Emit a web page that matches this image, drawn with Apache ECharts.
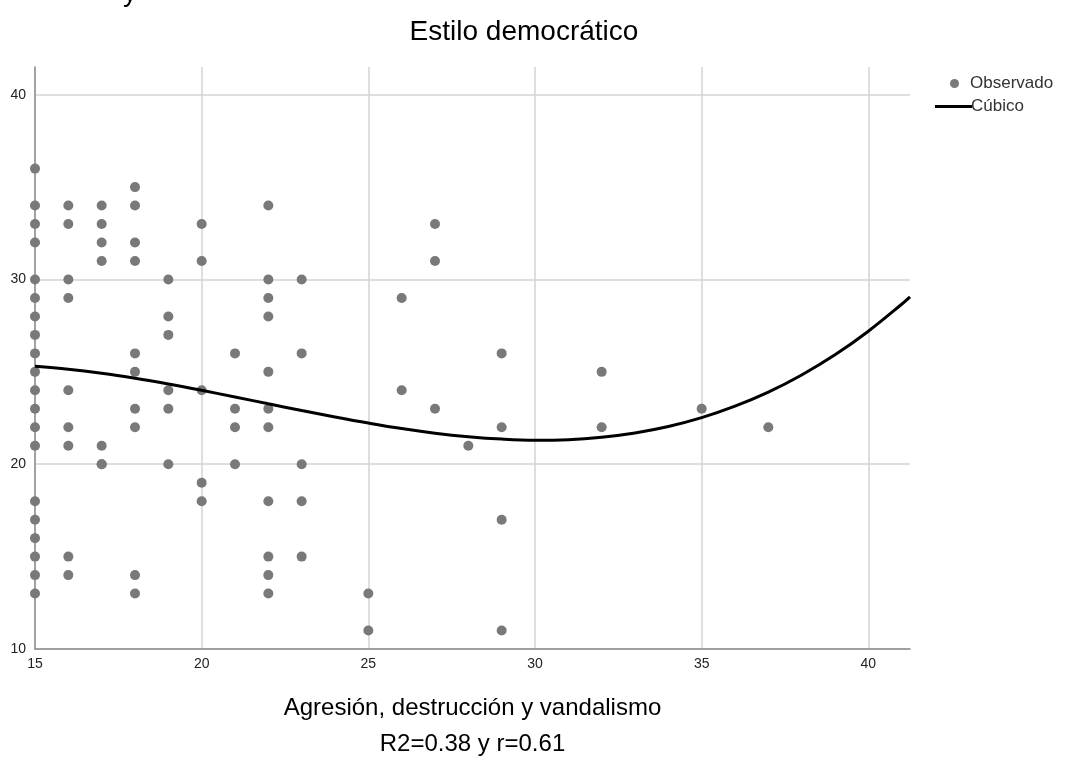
<!DOCTYPE html>
<html>
<head>
<meta charset="utf-8">
<script src="https://cdn.jsdelivr.net/npm/echarts@6/dist/echarts.min.js"></script>
<style>
  html, body { margin: 0; padding: 0; background: #fff; }
  #chart { width: 1065px; height: 770px; }
</style>
</head>
<body>
<div id="chart"></div>
<script>
// puntos observados, x = agresion, y = estilo democratico
const obsX15 = [36, 34, 33, 32, 30, 29, 28, 27, 26, 25, 24, 23, 22, 21, 18, 17, 16, 15, 14, 13]
const obsX16 = [34, 33, 30, 29, 24, 22, 21, 15, 14]
const obsX17 = [34, 33, 32, 31, 21, 20, 20]
const obsX18 = [35, 34, 32, 31, 26, 25, 23, 22, 14, 13]
const obsX19 = [30, 28, 27, 24, 23, 20]
const obsX20 = [33, 31, 24, 19, 18]
const obsX21 = [26, 23, 22, 20]
const obsX22 = [34, 30, 29, 28, 25, 23, 22, 18, 15, 14, 13]
const obsX23 = [30, 26, 20, 18, 15]
const obsX25 = [13, 11]
const obsX26 = [29, 24]
const obsX27 = [33, 31, 23]
const obsX28 = [21]
const obsX29 = [26, 22, 17, 11]
const obsX32 = [25, 22]
const obsX35 = [23]
const obsX37 = [22]

// curva cubica, valores
const curveX = [15, 16, 17, 18, 19, 20, 21, 22, 23, 24, 25, 26, 27, 28, 29, 30, 31, 32, 33,
  34, 35, 36, 37, 38, 39, 40, 41, 41.25]
const curveY = [25.3, 25.14, 24.92, 24.65, 24.34, 24.0, 23.64, 23.27, 22.91, 22.56, 22.23,
  21.93, 21.68, 21.49, 21.36, 21.3, 21.33, 21.46, 21.69, 22.04, 22.52, 23.14, 23.9, 24.83,
  25.92, 27.2, 28.66, 29.06]

const groups = [
  [15, obsX15], [16, obsX16], [17, obsX17], [18, obsX18], [19, obsX19],
  [20, obsX20], [21, obsX21], [22, obsX22], [23, obsX23], [25, obsX25],
  [26, obsX26], [27, obsX27], [28, obsX28], [29, obsX29], [32, obsX32],
  [35, obsX35], [37, obsX37],
]
const scatterData = []
groups.forEach(([x, ys]) => ys.forEach((y) => scatterData.push([x, y])))
const lineData = curveX.map((x, i) => [x, curveY[i]])

const font = "'Liberation Sans', Arial, sans-serif"
const chart = echarts.init(document.getElementById('chart'))
chart.setOption({
  animation: false,
  backgroundColor: '#fff',
  title: [
    {
      text: 'Estilo democrático',
      left: 519,
      top: 13,
      textAlign: 'center',
      textStyle: { fontFamily: font, fontSize: 28, fontWeight: 'normal', color: '#000' },
    },
    {
      text: 'y',
      left: 118,
      top: -26,
      textStyle: { fontFamily: font, fontSize: 28, fontWeight: 'normal', color: '#000' },
    },
  ],
  legend: [
    {
      data: [{ name: 'Observado', icon: 'circle' }],
      orient: 'vertical',
      left: 945,
      top: 70,
      itemWidth: 9,
      itemHeight: 9,
      textStyle: { fontFamily: font, fontSize: 17, color: '#333', padding: [0, 0, 0, 6] },
    },
    {
      data: [{ name: 'Cúbico', icon: 'rect' }],
      orient: 'vertical',
      left: 930,
      top: 93,
      itemWidth: 37,
      itemHeight: 3,
      textStyle: { fontFamily: font, fontSize: 17, color: '#333', padding: [0, 0, 0, -6] },
    },
  ],
  grid: { left: 35, right: 155, top: 67, bottom: 121 },
  xAxis: {
    type: 'value',
    min: 15,
    max: 41.25,
    interval: 5,
    name: 'Agresión, destrucción y vandalismo\nR2=0.38 y r=0.61',
    nameLocation: 'middle',
    nameGap: 41,
    nameTextStyle: { fontFamily: font, fontSize: 24, color: '#000', lineHeight: 36 },
    axisLine: { lineStyle: { color: '#8c8c8c', width: 1.5 } },
    axisTick: { show: false },
    axisLabel: { fontFamily: font, fontSize: 14, color: '#222', margin: 8, showMaxLabel: false },
    splitLine: { show: true, showMaxLine: false, lineStyle: { color: '#d3d3d3', width: 1.5 } },
  },
  yAxis: {
    type: 'value',
    min: 10,
    max: 41.5,
    interval: 10,
    axisLine: { show: true, lineStyle: { color: '#8c8c8c', width: 1.5 } },
    axisTick: { show: false },
    axisLabel: { fontFamily: font, fontSize: 14, color: '#222', margin: 9, showMaxLabel: false },
    splitLine: { show: true, showMaxLine: false, lineStyle: { color: '#d3d3d3', width: 1.5 } },
  },
  series: [
    {
      name: 'Observado',
      type: 'scatter',
      data: scatterData,
      symbolSize: 10,
      itemStyle: { color: '#797979', opacity: 1 },
      z: 3,
    },
    {
      name: 'Cúbico',
      type: 'line',
      data: lineData,
      smooth: 0.4,
      showSymbol: false,
      lineStyle: { color: '#000', width: 3 },
      itemStyle: { color: '#000' },
      z: 4,
    },
  ],
})
</script>
</body>
</html>
